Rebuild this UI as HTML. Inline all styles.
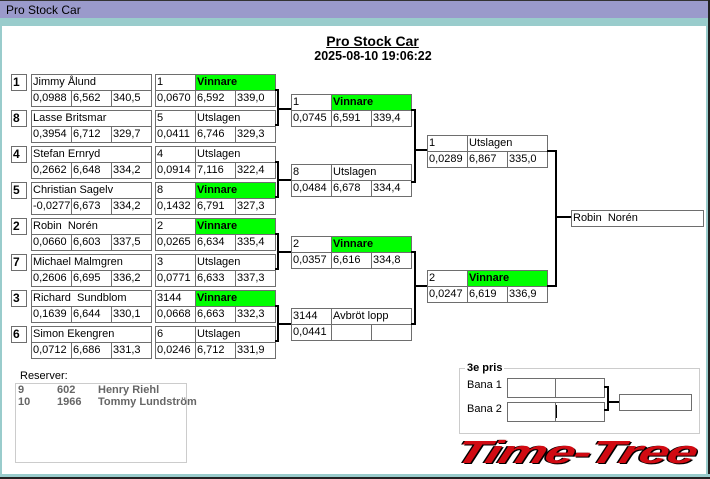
<!DOCTYPE html>
<html><head><meta charset="utf-8"><style>
*{margin:0;padding:0}
body{width:710px;height:479px;position:relative;overflow:hidden;background:#fff;font-family:"Liberation Sans",sans-serif}
div{position:absolute;box-sizing:border-box}
.c{border:1px solid #6e6e6e;height:17px;font-size:11px;line-height:15px;padding-left:1px;white-space:nowrap;overflow:hidden;background:#fff;color:#000}
.s{border:1px solid #6e6e6e;width:16px;height:17px;font-weight:bold;font-size:12px;line-height:15px;padding-left:1px;background:#fff}
.g{background:#00ff00;font-weight:bold}
.k{background:#000}
</style></head><body>
<div style="left:0;top:0;width:710px;height:19px;background:#9a9acb"></div>
<div style="left:0;top:0;width:710px;height:1px;background:#333"></div>
<div style="left:6px;top:3px;font-size:12px;line-height:14px;color:#000">Pro Stock Car</div>
<div style="left:0;top:18px;width:710px;height:8px;background:#99cccc"></div>
<div style="left:0;top:18px;width:2px;height:461px;background:#99cccc"></div>
<div style="left:706px;top:18px;width:4px;height:461px;background:#99cccc"></div>
<div style="left:708px;top:0;width:2px;height:479px;background:#222"></div>
<div style="left:0;top:474px;width:710px;height:5px;background:#99cccc"></div>
<div style="left:0;top:477px;width:710px;height:2px;background:#222"></div>

<div style="left:0;top:33px;width:745px;text-align:center;font-size:14px;font-weight:bold;text-decoration:underline;line-height:16px">Pro Stock Car</div>
<div style="left:0;top:49px;width:746px;text-align:center;font-size:12.5px;font-weight:bold;line-height:14px">2025-08-10 19:06:22</div>

<!-- seeds & names -->
<div class="s" style="left:11px;top:74px">1</div><div class="c" style="left:31px;top:74px;width:121px">Jimmy Ålund</div>
<div class="c" style="left:31px;top:90px;width:41px">0,0988</div><div class="c" style="left:71px;top:90px;width:41px">6,562</div><div class="c" style="left:111px;top:90px;width:41px">340,5</div>
<div class="s" style="left:11px;top:110px">8</div><div class="c" style="left:31px;top:110px;width:121px">Lasse Britsmar</div>
<div class="c" style="left:31px;top:126px;width:41px">0,3954</div><div class="c" style="left:71px;top:126px;width:41px">6,712</div><div class="c" style="left:111px;top:126px;width:41px">329,7</div>
<div class="s" style="left:11px;top:146px">4</div><div class="c" style="left:31px;top:146px;width:121px">Stefan Ernryd</div>
<div class="c" style="left:31px;top:162px;width:41px">0,2662</div><div class="c" style="left:71px;top:162px;width:41px">6,648</div><div class="c" style="left:111px;top:162px;width:41px">334,2</div>
<div class="s" style="left:11px;top:182px">5</div><div class="c" style="left:31px;top:182px;width:121px">Christian Sagelv</div>
<div class="c" style="left:31px;top:198px;width:41px">-0,0277</div><div class="c" style="left:71px;top:198px;width:41px">6,673</div><div class="c" style="left:111px;top:198px;width:41px">334,2</div>
<div class="s" style="left:11px;top:218px">2</div><div class="c" style="left:31px;top:218px;width:121px">Robin&nbsp; Norén</div>
<div class="c" style="left:31px;top:234px;width:41px">0,0660</div><div class="c" style="left:71px;top:234px;width:41px">6,603</div><div class="c" style="left:111px;top:234px;width:41px">337,5</div>
<div class="s" style="left:11px;top:254px">7</div><div class="c" style="left:31px;top:254px;width:121px">Michael Malmgren</div>
<div class="c" style="left:31px;top:270px;width:41px">0,2606</div><div class="c" style="left:71px;top:270px;width:41px">6,695</div><div class="c" style="left:111px;top:270px;width:41px">336,2</div>
<div class="s" style="left:11px;top:290px">3</div><div class="c" style="left:31px;top:290px;width:121px">Richard&nbsp; Sundblom</div>
<div class="c" style="left:31px;top:306px;width:41px">0,1639</div><div class="c" style="left:71px;top:306px;width:41px">6,644</div><div class="c" style="left:111px;top:306px;width:41px">330,1</div>
<div class="s" style="left:11px;top:326px">6</div><div class="c" style="left:31px;top:326px;width:121px">Simon Ekengren</div>
<div class="c" style="left:31px;top:342px;width:41px">0,0712</div><div class="c" style="left:71px;top:342px;width:41px">6,686</div><div class="c" style="left:111px;top:342px;width:41px">331,3</div>

<!-- round 1 -->
<div class="c" style="left:155px;top:74px;width:41px">1</div><div class="c g" style="left:195px;top:74px;width:81px">Vinnare</div>
<div class="c" style="left:155px;top:90px;width:41px">0,0670</div><div class="c" style="left:195px;top:90px;width:41px">6,592</div><div class="c" style="left:235px;top:90px;width:41px">339,0</div>
<div class="c" style="left:155px;top:110px;width:41px">5</div><div class="c" style="left:195px;top:110px;width:81px">Utslagen</div>
<div class="c" style="left:155px;top:126px;width:41px">0,0411</div><div class="c" style="left:195px;top:126px;width:41px">6,746</div><div class="c" style="left:235px;top:126px;width:41px">329,3</div>
<div class="c" style="left:155px;top:146px;width:41px">4</div><div class="c" style="left:195px;top:146px;width:81px">Utslagen</div>
<div class="c" style="left:155px;top:162px;width:41px">0,0914</div><div class="c" style="left:195px;top:162px;width:41px">7,116</div><div class="c" style="left:235px;top:162px;width:41px">322,4</div>
<div class="c" style="left:155px;top:182px;width:41px">8</div><div class="c g" style="left:195px;top:182px;width:81px">Vinnare</div>
<div class="c" style="left:155px;top:198px;width:41px">0,1432</div><div class="c" style="left:195px;top:198px;width:41px">6,791</div><div class="c" style="left:235px;top:198px;width:41px">327,3</div>
<div class="c" style="left:155px;top:218px;width:41px">2</div><div class="c g" style="left:195px;top:218px;width:81px">Vinnare</div>
<div class="c" style="left:155px;top:234px;width:41px">0,0265</div><div class="c" style="left:195px;top:234px;width:41px">6,634</div><div class="c" style="left:235px;top:234px;width:41px">335,4</div>
<div class="c" style="left:155px;top:254px;width:41px">3</div><div class="c" style="left:195px;top:254px;width:81px">Utslagen</div>
<div class="c" style="left:155px;top:270px;width:41px">0,0771</div><div class="c" style="left:195px;top:270px;width:41px">6,633</div><div class="c" style="left:235px;top:270px;width:41px">337,3</div>
<div class="c" style="left:155px;top:290px;width:41px">3144</div><div class="c g" style="left:195px;top:290px;width:81px">Vinnare</div>
<div class="c" style="left:155px;top:306px;width:41px">0,0668</div><div class="c" style="left:195px;top:306px;width:41px">6,663</div><div class="c" style="left:235px;top:306px;width:41px">332,3</div>
<div class="c" style="left:155px;top:326px;width:41px">6</div><div class="c" style="left:195px;top:326px;width:81px">Utslagen</div>
<div class="c" style="left:155px;top:342px;width:41px">0,0246</div><div class="c" style="left:195px;top:342px;width:41px">6,712</div><div class="c" style="left:235px;top:342px;width:41px">331,9</div>

<!-- round1 connectors -->
<div class="k" style="left:275px;top:89px;width:4px;height:2px"></div><div class="k" style="left:277px;top:89px;width:2px;height:37px"></div><div class="k" style="left:275px;top:124px;width:4px;height:2px"></div><div class="k" style="left:277px;top:108px;width:14px;height:2px"></div>
<div class="k" style="left:275px;top:161px;width:4px;height:2px"></div><div class="k" style="left:277px;top:161px;width:2px;height:37px"></div><div class="k" style="left:275px;top:196px;width:4px;height:2px"></div><div class="k" style="left:277px;top:179px;width:14px;height:2px"></div>
<div class="k" style="left:275px;top:233px;width:4px;height:2px"></div><div class="k" style="left:277px;top:233px;width:2px;height:37px"></div><div class="k" style="left:275px;top:268px;width:4px;height:2px"></div><div class="k" style="left:277px;top:251px;width:14px;height:2px"></div>
<div class="k" style="left:275px;top:305px;width:4px;height:2px"></div><div class="k" style="left:277px;top:305px;width:2px;height:37px"></div><div class="k" style="left:275px;top:340px;width:4px;height:2px"></div><div class="k" style="left:277px;top:323px;width:14px;height:2px"></div>

<!-- round 2 -->
<div class="c" style="left:291px;top:94px;width:41px">1</div><div class="c g" style="left:331px;top:94px;width:81px">Vinnare</div>
<div class="c" style="left:291px;top:110px;width:41px">0,0745</div><div class="c" style="left:331px;top:110px;width:41px">6,591</div><div class="c" style="left:371px;top:110px;width:41px">339,4</div>
<div class="c" style="left:291px;top:164px;width:41px">8</div><div class="c" style="left:331px;top:164px;width:81px">Utslagen</div>
<div class="c" style="left:291px;top:180px;width:41px">0,0484</div><div class="c" style="left:331px;top:180px;width:41px">6,678</div><div class="c" style="left:371px;top:180px;width:41px">334,4</div>
<div class="c" style="left:291px;top:236px;width:41px">2</div><div class="c g" style="left:331px;top:236px;width:81px">Vinnare</div>
<div class="c" style="left:291px;top:252px;width:41px">0,0357</div><div class="c" style="left:331px;top:252px;width:41px">6,616</div><div class="c" style="left:371px;top:252px;width:41px">334,8</div>
<div class="c" style="left:291px;top:308px;width:41px">3144</div><div class="c" style="left:331px;top:308px;width:81px">Avbröt lopp</div>
<div class="c" style="left:291px;top:324px;width:41px">0,0441</div><div class="c" style="left:331px;top:324px;width:41px"></div><div class="c" style="left:371px;top:324px;width:41px"></div>

<div class="k" style="left:411px;top:109px;width:5px;height:2px"></div><div class="k" style="left:414px;top:109px;width:2px;height:74px"></div><div class="k" style="left:411px;top:181px;width:5px;height:2px"></div><div class="k" style="left:414px;top:149px;width:13px;height:2px"></div>
<div class="k" style="left:411px;top:251px;width:5px;height:2px"></div><div class="k" style="left:414px;top:251px;width:2px;height:74px"></div><div class="k" style="left:411px;top:323px;width:5px;height:2px"></div><div class="k" style="left:414px;top:285px;width:13px;height:2px"></div>

<!-- round 3 -->
<div class="c" style="left:427px;top:135px;width:41px">1</div><div class="c" style="left:467px;top:135px;width:81px">Utslagen</div>
<div class="c" style="left:427px;top:151px;width:41px">0,0289</div><div class="c" style="left:467px;top:151px;width:41px">6,867</div><div class="c" style="left:507px;top:151px;width:41px">335,0</div>
<div class="c" style="left:427px;top:270px;width:41px">2</div><div class="c g" style="left:467px;top:270px;width:81px">Vinnare</div>
<div class="c" style="left:427px;top:286px;width:41px">0,0247</div><div class="c" style="left:467px;top:286px;width:41px">6,619</div><div class="c" style="left:507px;top:286px;width:41px">336,9</div>

<div class="k" style="left:547px;top:150px;width:10px;height:2px"></div><div class="k" style="left:555px;top:150px;width:2px;height:137px"></div><div class="k" style="left:547px;top:285px;width:10px;height:2px"></div><div class="k" style="left:555px;top:216px;width:16px;height:2px"></div>

<div class="c" style="left:571px;top:210px;width:133px">Robin&nbsp; Norén</div>

<!-- reserver -->
<div style="left:20px;top:370px;font-size:11px;line-height:13px">Reserver:</div>
<div style="left:15px;top:383px;width:172px;height:80px;border:1px solid #ccc"></div>
<div style="left:18px;top:384px;font-size:11px;line-height:12px;font-weight:bold;color:#666">9</div>
<div style="left:57px;top:384px;font-size:11px;line-height:12px;font-weight:bold;color:#666">602</div>
<div style="left:98px;top:384px;font-size:11px;line-height:12px;font-weight:bold;color:#666">Henry Riehl</div>
<div style="left:18px;top:396px;font-size:11px;line-height:12px;font-weight:bold;color:#666">10</div>
<div style="left:57px;top:396px;font-size:11px;line-height:12px;font-weight:bold;color:#666">1966</div>
<div style="left:98px;top:396px;font-size:11px;line-height:12px;font-weight:bold;color:#666">Tommy Lundström</div>

<!-- 3e pris -->
<div style="left:459px;top:368px;width:241px;height:66px;border:1px solid #ccc"></div>
<div style="left:465px;top:362px;padding:0 2px;background:#fff;font-size:11px;font-weight:bold;line-height:13px">3e pris</div>
<div style="left:467px;top:379px;font-size:11px;line-height:13px">Bana 1</div>
<div style="left:467px;top:403px;font-size:11px;line-height:13px">Bana 2</div>
<div style="left:507px;top:378px;width:98px;height:20px;border:1px solid #6e6e6e"></div>
<div style="left:555px;top:378px;width:1px;height:20px;background:#6e6e6e"></div>
<div style="left:507px;top:402px;width:98px;height:20px;border:1px solid #6e6e6e"></div>
<div style="left:555px;top:402px;width:1px;height:20px;background:#6e6e6e"></div>
<div style="left:556px;top:405px;width:1px;height:13px;background:#000"></div>
<div class="k" style="left:604px;top:386px;width:5px;height:2px"></div><div class="k" style="left:607px;top:386px;width:2px;height:25px"></div><div class="k" style="left:604px;top:409px;width:5px;height:2px"></div><div class="k" style="left:607px;top:401px;width:12px;height:2px"></div>
<div style="left:619px;top:394px;width:73px;height:17px;border:1px solid #6e6e6e"></div>

<!-- logo -->
<div style="left:462px;top:435px;font-size:32px;line-height:34px;font-weight:bold;font-style:italic;color:#d10a12;letter-spacing:-1px;white-space:nowrap;transform:skewX(-18deg) scaleX(1.68);transform-origin:left top;text-shadow:1px 1px 0 #000,-1px 0 0 #000;font-family:'Liberation Sans',sans-serif">Time-Tree</div>
</body></html>
